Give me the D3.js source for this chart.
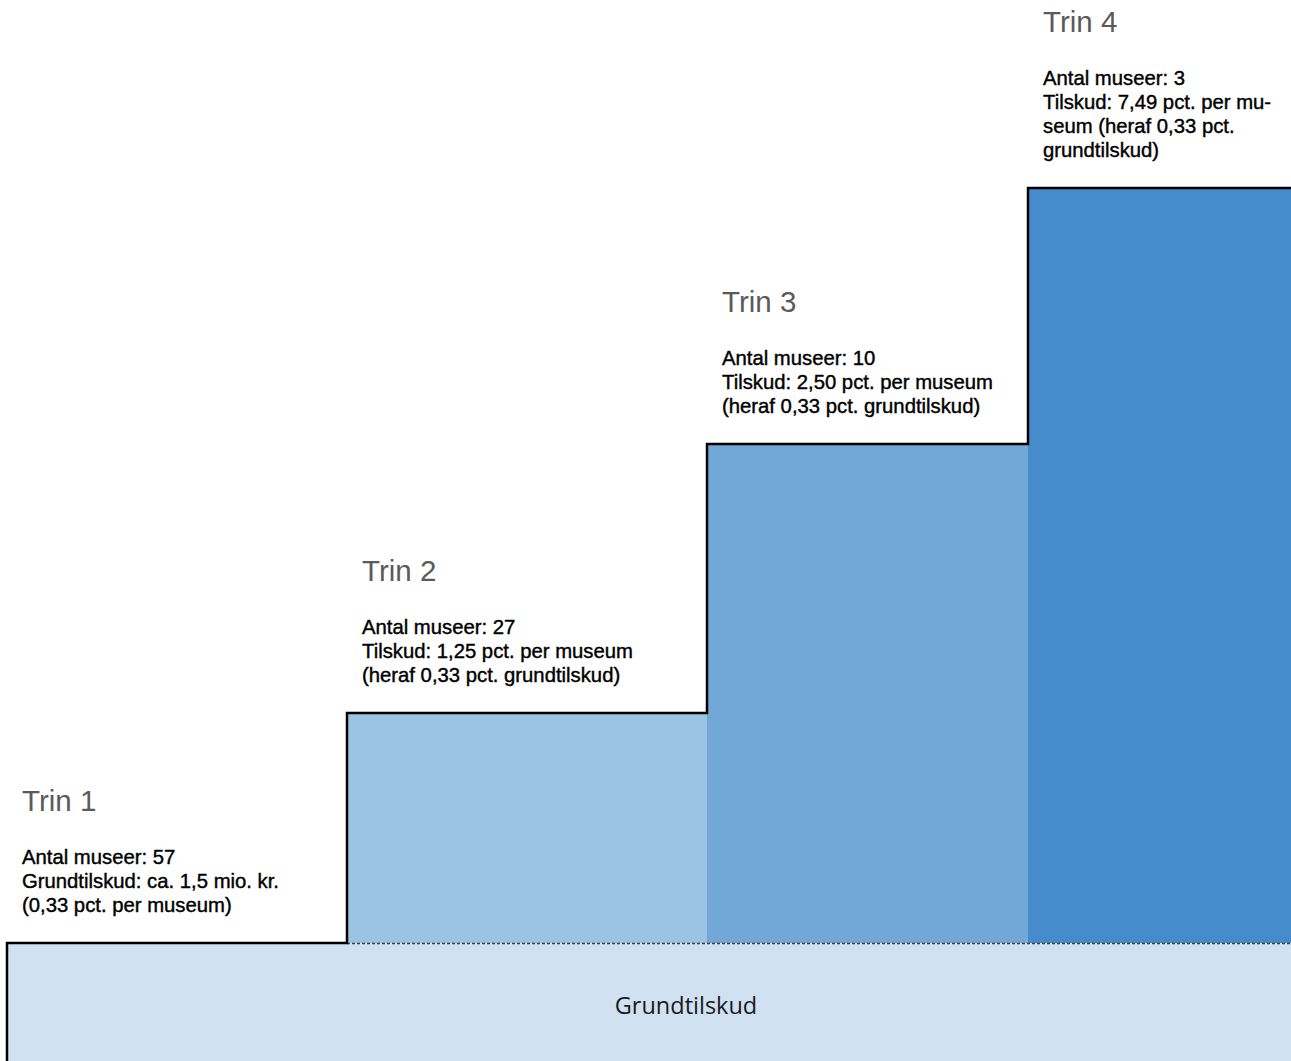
<!DOCTYPE html>
<html>
<head>
<meta charset="utf-8">
<script src="https://cdn.jsdelivr.net/npm/d3@7"></script>
<style>
  html, body { margin: 0; padding: 0; background: #ffffff; }
  svg { display: block; }
</style>
</head>
<body>
<div id="chart"></div>
<script>
// ---- data ----
const steps = ["Trin 1", "Trin 2", "Trin 3", "Trin 4"];
const museums = [57, 27, 10, 3];
// step height above the common base (illustrative units)
const levels = [0, 2.30, 4.99, 7.55];
// step boundaries along the horizontal axis (illustrative units)
const edges = [0, 3.40, 7.00, 10.21, 13.58];
const baseDepth = -1.3;
const baseLabel = "Grundtilskud";
const infoLines = [
  ["Antal museer: 57", "Grundtilskud: ca. 1,5 mio. kr.", "(0,33 pct. per museum)"],
  ["Antal museer: 27", "Tilskud: 1,25 pct. per museum", "(heraf 0,33 pct. grundtilskud)"],
  ["Antal museer: 10", "Tilskud: 2,50 pct. per museum", "(heraf 0,33 pct. grundtilskud)"],
  ["Antal museer: 3", "Tilskud: 7,49 pct. per mu-", "seum (heraf 0,33 pct.", "grundtilskud)"]
];
const stepColors = ["#d0e1f1", "#9dc3e3", "#72a8d8", "#468ccc"];

// ---- layout ----
const W = 1291, H = 1061;
const svg = d3.select("#chart").append("svg").attr("width", W).attr("height", H);

const x = d3.scaleLinear().domain([0, 12.84]).range([7, 1291]);
const y = d3.scaleLinear().domain([0, 7.55]).range([943, 188]);
const last = edges.length - 1;

// base block
svg.append("rect")
  .attr("x", x(edges[0])).attr("y", y(0))
  .attr("width", x(edges[last]) - x(edges[0]))
  .attr("height", y(baseDepth) - y(0))
  .attr("fill", stepColors[0]);

// step blocks
const idx = d3.range(1, steps.length);
svg.selectAll("rect.step").data(idx).join("rect")
  .attr("class", "step")
  .attr("x", i => x(edges[i]))
  .attr("y", i => y(levels[i]))
  .attr("width", i => x(edges[i + 1]) - x(edges[i]))
  .attr("height", i => y(0) - y(levels[i]))
  .attr("fill", i => stepColors[i]);

// dashed divider between base and steps
svg.append("line")
  .attr("x1", x(edges[1])).attr("x2", x(edges[last]))
  .attr("y1", y(0) + 0.5).attr("y2", y(0) + 0.5)
  .attr("stroke", "#3f3f3f").attr("stroke-width", 1.6)
  .attr("stroke-dasharray", "3,2");

// staircase outline
const p = d3.path();
p.moveTo(x(edges[0]), y(baseDepth));
p.lineTo(x(edges[0]), y(0));
for (let i = 1; i < steps.length; i++) {
  p.lineTo(x(edges[i]), y(levels[i - 1]));
  p.lineTo(x(edges[i]), y(levels[i]));
}
p.lineTo(x(edges[last]), y(levels[steps.length - 1]));
svg.append("path").attr("d", p.toString())
  .attr("fill", "none").attr("stroke", "#000").attr("stroke-width", 2.5)
  .attr("stroke-linejoin", "miter");

// labels
const lineH = 24;
steps.forEach((s, i) => {
  const left = x(edges[i]) + 15;
  const top = y(levels[i]);
  const lines = infoLines[i];
  const n = lines.length;
  const lastBase = top - 31;
  svg.append("text")
    .attr("x", left).attr("y", lastBase - lineH * (n - 1) - 53)
    .attr("font-family", "Liberation Sans, Arial, sans-serif")
    .attr("font-size", 29.5).attr("fill", "#5a5a5a")
    .text(s);
  const t = svg.append("text")
    .attr("font-family", "Liberation Sans, Arial, sans-serif")
    .attr("font-size", 20.3).attr("fill", "#000")
    .attr("stroke", "#000").attr("stroke-width", 0.4);
  lines.forEach((ln, k) => {
    t.append("tspan").attr("x", left)
      .attr("y", lastBase - lineH * (n - 1 - k))
      .text(ln);
  });
});

svg.append("text")
  .attr("x", (x(edges[0]) + x(edges[last])) / 2)
  .attr("y", 1014)
  .attr("text-anchor", "middle")
  .attr("font-family", "Open Sans, sans-serif")
  .attr("font-size", 23.5).attr("fill", "#1a1a1a")
  .text(baseLabel);
</script>
</body>
</html>
